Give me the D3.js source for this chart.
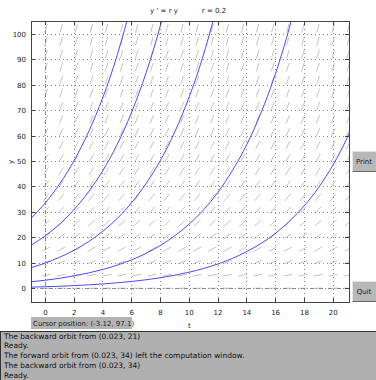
<!DOCTYPE html>
<html><head><meta charset="utf-8">
<script src="https://cdn.jsdelivr.net/npm/d3@7"></script>
<style>
html,body{margin:0;padding:0;background:#fff;}
svg{display:block;}
text{font-family:"DejaVu Sans",sans-serif;}
</style></head>
<body>
<script>
// ---- data ----
const r = 0.2;
const xTicks = [0,2,4,6,8,10,12,14,16,18,20];
const yTicks = [0,10,20,30,40,50,60,70,80,90,100];
const fieldT = [0.05,1.1,2.15,3.2,4.25,5.3,6.35,7.4,8.45,9.5,10.55,11.6,12.65,13.7,14.75,15.8,16.85,17.9,18.95,20.0,21.05];
const fieldY = [0.3,5.4,10.5,15.6,20.7,25.8,30.9,36.0,41.1,46.2,51.3,56.4,61.5,66.6,71.7,76.8,81.9,87.0,92.1,97.2,102.3];
const orbitA = [[-1,27.7],[0,33.8],[1,41.3],[2,50.4],[3,61.6],[4,75.2],[5,91.9],[6,112.2]];
const orbitB = [[-1,17.1],[0,20.9],[1,25.5],[2,31.2],[3,38.1],[4,46.5],[5,56.8],[6,69.4],[7,84.8],[8,103.5],[9,126.4]];
const orbitC = [[-1,8.35],[0,10.2],[1,12.5],[2,15.2],[3,18.6],[4,22.7],[5,27.7],[6,33.9],[7,41.4],[8,50.5],[9,61.7],[10,75.4],[11,92.1],[12,112.4]];
const orbitD = [[-1,2.82],[0,3.45],[1,4.21],[2,5.15],[3,6.29],[4,7.68],[5,9.38],[6,11.45],[7,14.0],[8,17.1],[9,20.9],[10,25.5],[11,31.1],[12,38.0],[13,46.5],[14,56.7],[15,69.3],[16,84.6],[17,103.4],[18,126.3]];
const orbitE = [[-1,0.73],[0,0.89],[1,1.09],[2,1.33],[3,1.63],[4,1.99],[5,2.43],[6,2.96],[7,3.62],[8,4.42],[9,5.40],[10,6.60],[11,8.06],[12,9.84],[13,12.0],[14,14.7],[15,17.9],[16,21.9],[17,26.8],[18,32.7],[19,39.9],[20,48.8],[21,59.6],[22,72.7]];
const orbits = [orbitA, orbitB, orbitC, orbitD, orbitE];
const messages = [
  "The backward orbit from (0.023, 21)",
  "Ready.",
  "The forward orbit from (0.023, 34) left the computation window.",
  "The backward orbit from (0.023, 34)",
  "Ready."
];
const cursorText = "Cursor position:  (-3.12, 97.1)";

// ---- layout ----
const W = 376, H = 380;
const L = 31, R = 349, T = 21, B = 302;
const svg = d3.select("body").append("svg").attr("width", W).attr("height", H);
svg.append("rect").attr("width", W).attr("height", H).attr("fill", "#fff");

const x = d3.scaleLinear().domain([-1, 21.1]).range([L, R]);
const y = d3.scaleLinear().domain([-5.1, 105.1]).range([B, T]);

svg.append("defs").append("clipPath").attr("id", "clip")
  .append("rect").attr("x", L).attr("y", T).attr("width", R - L).attr("height", B - T);

const plot = svg.append("g").attr("clip-path", "url(#clip)");

// slope field
const sx = x(1) - x(0), sy = y(0) - y(1);
const field = [];
fieldT.forEach(t => fieldY.forEach(v => field.push([t, v])));
const half = 4.5;
function dir(d) { const dx = sx, dy = r * d[1] * sy, n = Math.hypot(dx, dy); return [dx / n, dy / n]; }
plot.selectAll("line.f").data(field).enter().append("line")
  .attr("x1", d => x(d[0]) - half * dir(d)[0])
  .attr("x2", d => x(d[0]) + half * dir(d)[0])
  .attr("y1", d => y(d[1]) + half * dir(d)[1])
  .attr("y2", d => y(d[1]) - half * dir(d)[1])
  .attr("stroke", "#c4c4c4").attr("stroke-width", 1);

// grid lines
plot.selectAll("line.gx").data(xTicks).enter().append("line")
  .attr("x1", d => x(d)).attr("x2", d => x(d)).attr("y1", T).attr("y2", B)
  .attr("stroke", "#8a8a8a").attr("stroke-width", 1)
  .attr("stroke-dasharray", d => d === 0 ? "4,2,1,2" : "1,3")
  .attr("shape-rendering", "crispEdges");
plot.selectAll("line.gy").data(yTicks).enter().append("line")
  .attr("y1", d => y(d)).attr("y2", d => y(d)).attr("x1", L).attr("x2", R)
  .attr("stroke", "#8a8a8a").attr("stroke-width", 1)
  .attr("stroke-dasharray", d => d === 0 ? "4,2,1,2" : "1,3")
  .attr("shape-rendering", "crispEdges");

// orbits
const line = d3.line().x(d => x(d[0])).y(d => y(d[1])).curve(d3.curveNatural);
plot.selectAll("path.o").data(orbits).enter().append("path")
  .attr("d", line).attr("fill", "none").attr("stroke", "#4a4aff").attr("stroke-width", 1);

// box
svg.append("rect").attr("x", L + 0.5).attr("y", T + 0.5).attr("width", R - L).attr("height", B - T)
  .attr("fill", "none").attr("stroke", "#444").attr("stroke-width", 1);

// ticks
const tk = 4;
const tickG = svg.append("g").attr("stroke", "#444").attr("shape-rendering", "crispEdges");
xTicks.forEach(d => {
  tickG.append("line").attr("x1", x(d)).attr("x2", x(d)).attr("y1", B).attr("y2", B - tk);
  tickG.append("line").attr("x1", x(d)).attr("x2", x(d)).attr("y1", T).attr("y2", T + tk);
});
yTicks.forEach(d => {
  tickG.append("line").attr("y1", y(d)).attr("y2", y(d)).attr("x1", L).attr("x2", L + tk);
  tickG.append("line").attr("y1", y(d)).attr("y2", y(d)).attr("x1", R).attr("x2", R - tk);
});

// tick labels
svg.selectAll("text.xt").data(xTicks).enter().append("text")
  .attr("x", d => x(d)).attr("y", B + 13).attr("text-anchor", "middle")
  .attr("font-size", 7).attr("fill", "#222").text(d => d);
svg.selectAll("text.yt").data(yTicks).enter().append("text")
  .attr("x", L - 5).attr("y", d => y(d) + 2.5).attr("text-anchor", "end")
  .attr("font-size", 7).attr("fill", "#222").text(d => d);

// axis labels & title
svg.append("text").attr("x", x(10)).attr("y", 328).attr("text-anchor", "middle")
  .attr("font-size", 7).attr("fill", "#222").text("t");
svg.append("text").attr("transform", "translate(13,162) rotate(-90)").attr("text-anchor", "middle")
  .attr("font-size", 7).attr("fill", "#222").text("y");
svg.append("text").attr("x", 164).attr("y", 13).attr("text-anchor", "middle")
  .attr("font-size", 7).attr("fill", "#222").text("y ' = r y");
svg.append("text").attr("x", 214).attr("y", 13).attr("text-anchor", "middle")
  .attr("font-size", 7).attr("fill", "#222").text("r = 0.2");

// cursor box
svg.append("rect").attr("x", 31).attr("y", 317).attr("width", 101).attr("height", 12).attr("fill", "#b4b4b4");
svg.append("text").attr("x", 33).attr("y", 326).attr("font-size", 7).attr("fill", "#222").text(cursorText);

// message area
svg.append("rect").attr("x", 0.5).attr("y", 331.5).attr("width", W).attr("height", H - 331)
  .attr("fill", "#b0b0b0").attr("stroke", "#333").attr("stroke-width", 1);
svg.selectAll("text.msg").data(messages).enter().append("text")
  .attr("x", 4).attr("y", (d, i) => 338.5 + i * 9.8).attr("font-size", 7.5).attr("fill", "#111").text(d => d);

// buttons
function button(bx, by, bw, bh, label) {
  const g = svg.append("g");
  g.append("rect").attr("x", bx).attr("y", by).attr("width", bw).attr("height", bh).attr("fill", "#b8b8b8");
  g.append("path").attr("d", `M${bx + 0.5},${by + bh}V${by + 0.5}H${bx + bw}`).attr("stroke", "#e6e6e6").attr("fill", "none");
  g.append("path").attr("d", `M${bx + 0.5},${by + bh - 0.5}H${bx + bw}`).attr("stroke", "#6a6a6a").attr("fill", "none");
  g.append("text").attr("x", bx + bw / 2).attr("y", by + bh / 2 + 2.5).attr("text-anchor", "middle")
    .attr("font-size", 7).attr("fill", "#222").text(label);
}
button(352, 151, 24, 21, "Print");
button(352, 281, 24, 21, "Quit");
</script>
</body></html>
